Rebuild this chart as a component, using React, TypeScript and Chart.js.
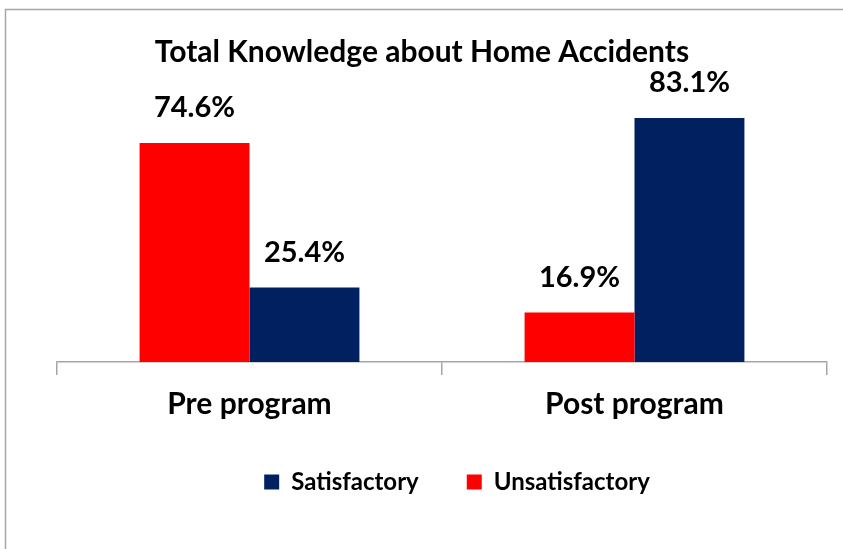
import React, { useEffect, useRef } from "react";
import { Chart, registerables } from "chart.js";

Chart.register(...registerables);

const categories = ["Pre program", "Post program"];
const unsatisfactory = [74.6, 16.9];
const satisfactory = [25.4, 83.1];
const titleText = "Total Knowledge about Home Accidents";
const seriesNames = ["Unsatisfactory", "Satisfactory"];

const FONT = "Lato, 'Open Sans', sans-serif";
const RED = "#FF0000";
const NAVY = "#002060";
const GRAY = "#a6a6a6";

const framePlugin = {
  id: "frame",
  beforeDraw(chart: any) {
    const ctx = chart.ctx;
    ctx.save();
    ctx.fillStyle = "#ffffff";
    ctx.fillRect(0, 0, chart.width, chart.height);
    ctx.strokeStyle = GRAY;
    ctx.lineWidth = 1.5;
    ctx.beginPath();
    ctx.moveTo(5.5, chart.height);
    ctx.lineTo(5.5, 9.5);
    ctx.lineTo(chart.width, 9.5);
    ctx.stroke();
    ctx.restore();
  },
};

const shiftPlugin = {
  id: "shiftBoxes",
  afterLayout(chart: any) {
    const t = chart.titleBlock;
    if (t) {
      t.left -= 20;
      t.right -= 20;
      t.top += 2;
      t.bottom += 2;
    }
    const l = chart.legend;
    if (l) {
      l.left += 15;
      l.right += 15;
    }
  },
};

const valueLabelPlugin = {
  id: "valueLabels",
  afterDatasetsDraw(chart: any) {
    const ctx = chart.ctx;
    ctx.save();
    ctx.font = `bold 29px ${FONT}`;
    ctx.fillStyle = "#000";
    ctx.textAlign = "center";
    ctx.textBaseline = "middle";
    chart.data.datasets.forEach((ds: any, i: number) => {
      const meta = chart.getDatasetMeta(i);
      meta.data.forEach((bar: any, j: number) => {
        ctx.fillText(`${Number(ds.data[j]).toFixed(1)}%`, bar.x, bar.y - 35);
      });
    });
    ctx.restore();
  },
};

export default function App() {
  const ref = useRef<HTMLCanvasElement | null>(null);
  useEffect(() => {
    if (!ref.current) return;
    const chart = new Chart(ref.current, {
      type: "bar",
      data: {
        labels: categories,
        datasets: [
          {
            label: seriesNames[0],
            data: unsatisfactory,
            backgroundColor: RED,
            borderWidth: 0,
            barPercentage: 1,
            categoryPercentage: 0.571,
          },
          {
            label: seriesNames[1],
            data: satisfactory,
            backgroundColor: NAVY,
            borderWidth: 0,
            barPercentage: 1,
            categoryPercentage: 0.571,
          },
        ],
      },
      options: {
        responsive: false,
        animation: false,
        layout: { padding: { left: 57, right: 16, top: 9, bottom: 45 } },
        plugins: {
          title: {
            display: true,
            text: titleText,
            color: "#000",
            font: { family: FONT, size: 30, weight: "bold" },
            padding: { top: 23, bottom: 0.4 },
          },
          legend: {
            position: "bottom",
            reverse: true,
            labels: {
              color: "#000",
              boxWidth: 15,
              boxHeight: 15,
              padding: 48,
              font: { family: FONT, size: 24, weight: "bold" },
            },
          },
          tooltip: { enabled: false },
        },
        scales: {
          x: {
            afterFit(scale: any) {
              scale.height = 60;
            },
            grid: {
              offset: true,
              drawOnChartArea: false,
              drawTicks: true,
              tickLength: 13,
              color: GRAY,
              lineWidth: 1.5,
            },
            border: { color: GRAY, width: 1.5 },
            ticks: {
              color: "#000",
              padding: 11,
              font: { family: FONT, size: 30, weight: "bold" },
            },
          },
          y: { display: false, min: 0, max: 100 },
        },
      },
      plugins: [framePlugin, shiftPlugin, valueLabelPlugin],
    } as any);
    return () => chart.destroy();
  }, []);
  return (
    <div style={{ position: "fixed", left: 0, top: 0, width: 843, height: 549 }}>
      <canvas ref={ref} width={843} height={549} />
    </div>
  );
}
